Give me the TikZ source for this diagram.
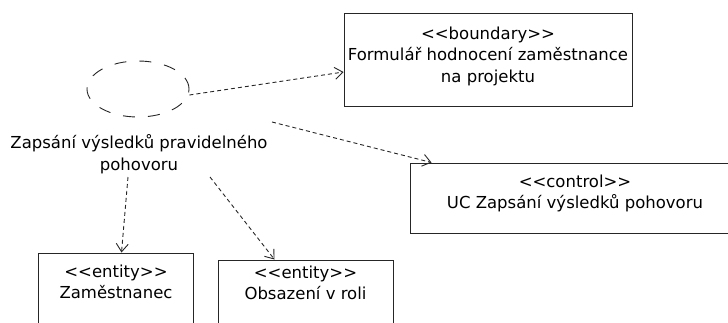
\documentclass[tikz,border=0pt]{standalone}
\usepackage{fontspec}
\setmainfont{DejaVu Sans}
\usetikzlibrary{arrows.meta,shapes.geometric}
\tikzset{
  umlbox/.style={draw=black!85, line width=1pt, rectangle, inner sep=0pt},
  umltext/.style={align=center, inner sep=0pt, font=\fontsize{16.5}{21.5}\selectfont},
  dep/.style={draw=black!85, line width=0.9pt, dash pattern=on 4pt off 3pt,
    -{Straight Barb[length=8pt,width=12pt,line width=0.9pt]}},
}
\begin{document}
\begin{tikzpicture}[x=1pt,y=-1pt]
\useasboundingbox (0,0) rectangle (728,322);
% use case
\node[ellipse, draw=black!85, line width=0.9pt, dash pattern=on 12pt off 13pt,
  minimum width=102pt, minimum height=56pt, inner sep=0pt] (ell) at (138,89) {};
\node[umltext] (lbl) at (139,154) {Zapsání výsledků pravidelného\\pohovoru};
% boxes
\node[umlbox, minimum width=288pt, minimum height=93pt] (bnd) at (488,59.5) {};
\node[umltext] (bndt) at (488,56) {<{}<boundary>{}>\\Formulář hodnocení zaměstnance\\na projektu};
\node[umlbox, minimum width=330pt, minimum height=70pt] (ctl) at (575,198) {};
\node[umltext] (ctlt) at (575,193.5) {<{}<control>{}>\\UC Zapsání výsledků pohovoru};
\node[umlbox, minimum width=155pt, minimum height=100pt] (ent1) at (115.5,303) {};
\node[umltext] (ent1t) at (116,282) {<{}<entity>{}>\\Zaměstnanec};
\node[umlbox, minimum width=175pt, minimum height=100pt] (ent2) at (305.5,310) {};
\node[umltext] (ent2t) at (305.5,283) {<{}<entity>{}>\\Obsazení v roli};
% connector start points
\coordinate (s2) at (272,122);
\coordinate (s3) at (128,177);
\coordinate (s4) at (210,177);
% connectors
\draw[dep] ([yshift=-6pt]ell.east) -- ([yshift=-12.5pt]bnd.west);
\draw[dep] (s2) -- ([xshift=22pt]ctl.north west);
\draw[dep] (s3) -- ([xshift=84pt]ent1.north west);
\draw[dep] (s4) -- ([xshift=57pt]ent2.north west);
\end{tikzpicture}
\end{document}
